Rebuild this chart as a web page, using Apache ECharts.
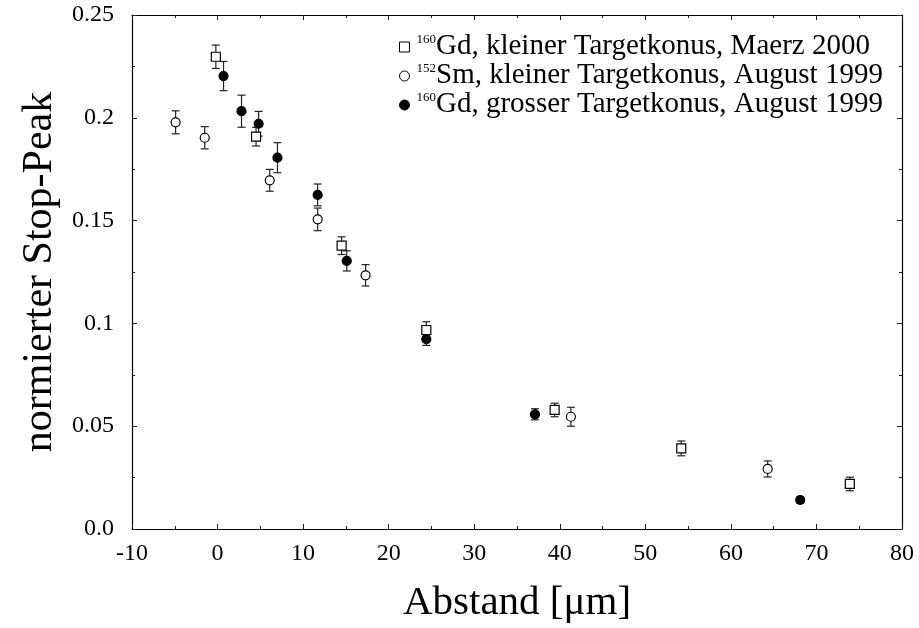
<!DOCTYPE html>
<html>
<head>
<meta charset="utf-8">
<script src="https://cdn.jsdelivr.net/npm/echarts@6/dist/echarts.min.js"></script>
<style>html,body{margin:0;padding:0;background:#fff}#c{width:919px;height:628px}</style>
</head>
<body>
<div id="c"></div>
<script>
// --- data ---
const seriesNames = ['GdKlein2000', 'SmKlein1999', 'GdGross1999'];
const legendSup = ['160', '152', '160'];
const legendText = ['Gd, kleiner Targetkonus, Maerz 2000', 'Sm, kleiner Targetkonus, August 1999', 'Gd, grosser Targetkonus, August 1999'];

const gdKleinX = [-0.2, 4.5, 14.5, 24.4, 39.4, 54.2, 73.9];
const gdKleinY = [0.2297, 0.1908, 0.1378, 0.0968, 0.0579, 0.0392, 0.0219];
const gdKleinErr = [0.0057, 0.0045, 0.0043, 0.0040, 0.0033, 0.0036, 0.0033];

const smKleinX = [-4.9, -1.5, 6.1, 11.7, 17.3, 41.3, 64.3];
const smKleinY = [0.1978, 0.1903, 0.1696, 0.1506, 0.1234, 0.0546, 0.0292];
const smKleinErr = [0.0056, 0.0054, 0.0053, 0.0055, 0.0052, 0.0046, 0.0039];

const gdGrossX = [0.7, 2.8, 4.8, 7.0, 11.7, 15.1, 24.4, 37.1, 68.1];
const gdGrossY = [0.2203, 0.2032, 0.1971, 0.1806, 0.1625, 0.1304, 0.0923, 0.0558, 0.0141];
const gdGrossErr = [0.0071, 0.0078, 0.0060, 0.0073, 0.0053, 0.0049, 0.0030, 0.0027, 0.0015];

const yTickLabels = ['0.0', '0.05', '0.1', '0.15', '0.2', '0.25'];
const xTickLabels = ['-10', '0', '10', '20', '30', '40', '50', '60', '70', '80'];

// --- build ---
const FONT = 'Liberation Serif';
function pts(xs, ys, es) { return xs.map((x, i) => [x, ys[i], es[i]]); }
const sets = [pts(gdKleinX, gdKleinY, gdKleinErr), pts(smKleinX, smKleinY, smKleinErr), pts(gdGrossX, gdGrossY, gdGrossErr)];

function errRender(params, api) {
  const x = api.value(0), y = api.value(1), e = api.value(2);
  const a = api.coord([x, y + e]), b = api.coord([x, y - e]);
  const w = 4;
  const st = { stroke: '#222', lineWidth: 1.2 };
  return { type: 'group', children: [
    { type: 'line', shape: { x1: a[0], y1: a[1], x2: b[0], y2: b[1] }, style: st },
    { type: 'line', shape: { x1: a[0] - w, y1: a[1], x2: a[0] + w, y2: a[1] }, style: st },
    { type: 'line', shape: { x1: b[0] - w, y1: b[1], x2: b[0] + w, y2: b[1] }, style: st }
  ]};
}

const symbols = ['rect', 'circle', 'circle'];
const fills = ['#fff', '#fff', '#000'];
const sizes = [9, 9, 9];

const series = [];
sets.forEach((d, i) => {
  series.push({ type: 'custom', name: seriesNames[i] + '_err', renderItem: errRender, data: d, encode: { x: 0, y: 1 }, z: 2, silent: true });
});
sets.forEach((d, i) => {
  series.push({ type: 'scatter', name: seriesNames[i], data: d.map(p => [p[0], p[1]]), symbol: symbols[i], symbolSize: sizes[i],
    itemStyle: { color: fills[i], borderColor: '#000', borderWidth: 1.2, opacity: 1 }, z: 3 });
});

const axisLineSt = { show: true, onZero: false, lineStyle: { color: '#000', width: 1.2 } };
const tickSt = { show: true, inside: true, length: 5, lineStyle: { color: '#222', width: 1 } };
const minorSt = { show: true, splitNumber: 2, length: 3, lineStyle: { color: '#222', width: 1 } };

const option = {
  animation: false,
  backgroundColor: '#fff',
  grid: { left: 132, right: 17, top: 15, bottom: 99, containLabel: false, outerBoundsMode: 'none' },
  legend: {
    orient: 'vertical', left: 394, top: 27, itemGap: 0, itemWidth: 10, itemHeight: 10,
    data: [
      { name: seriesNames[0], icon: 'rect', itemStyle: { color: '#fff', borderColor: '#000', borderWidth: 1 } },
      { name: seriesNames[1], icon: 'circle', itemStyle: { color: '#fff', borderColor: '#000', borderWidth: 1 } },
      { name: seriesNames[2], icon: 'circle', itemStyle: { color: '#000', borderColor: '#000', borderWidth: 1 } }
    ],
    formatter: function (n) { const i = seriesNames.indexOf(n); return '{s|' + legendSup[i] + '}{t|' + legendText[i] + '}'; },
    textStyle: { fontFamily: FONT, color: '#000', rich: {
      s: { fontFamily: FONT, fontSize: 13, color: '#000', lineHeight: 28, verticalAlign: 'top', padding: [0, 0, 0, 2] },
      t: { fontFamily: FONT, fontSize: 29, color: '#000', lineHeight: 28, verticalAlign: 'bottom' }
    } }
  },
  xAxis: [{
    type: 'value', min: -10, max: 80, interval: 10,
    name: 'Abstand [μm]', nameLocation: 'middle', nameGap: 54,
    nameTextStyle: { fontFamily: FONT, fontSize: 41, color: '#000' },
    axisLine: axisLineSt, axisTick: tickSt, minorTick: minorSt, splitLine: { show: false },
    axisLabel: { fontFamily: FONT, fontSize: 24, color: '#000', margin: 13,
      formatter: function (v) { return xTickLabels[Math.round((v + 10) / 10)]; } }
  }, {
    type: 'value', position: 'top', min: -10, max: 80, interval: 10,
    axisLine: axisLineSt, axisTick: tickSt, minorTick: minorSt, splitLine: { show: false }, axisLabel: { show: false }
  }],
  yAxis: [{
    type: 'value', min: 0, max: 0.25, interval: 0.05,
    name: 'normierter Stop-Peak', nameLocation: 'middle', nameGap: 66, nameRotate: 90,
    nameTextStyle: { fontFamily: FONT, fontSize: 42, color: '#000' },
    axisLine: axisLineSt, axisTick: tickSt, minorTick: minorSt, splitLine: { show: false },
    axisLabel: { fontFamily: FONT, fontSize: 24, color: '#000', margin: 18,
      formatter: function (v) { return yTickLabels[Math.round(v / 0.05)]; } }
  }, {
    type: 'value', position: 'right', min: 0, max: 0.25, interval: 0.05,
    axisLine: axisLineSt, axisTick: tickSt, minorTick: minorSt, splitLine: { show: false }, axisLabel: { show: false }
  }],
  series: series
};
const chart = echarts.init(document.getElementById('c'), null, { renderer: 'canvas' });
chart.setOption(option);
</script>
</body>
</html>
